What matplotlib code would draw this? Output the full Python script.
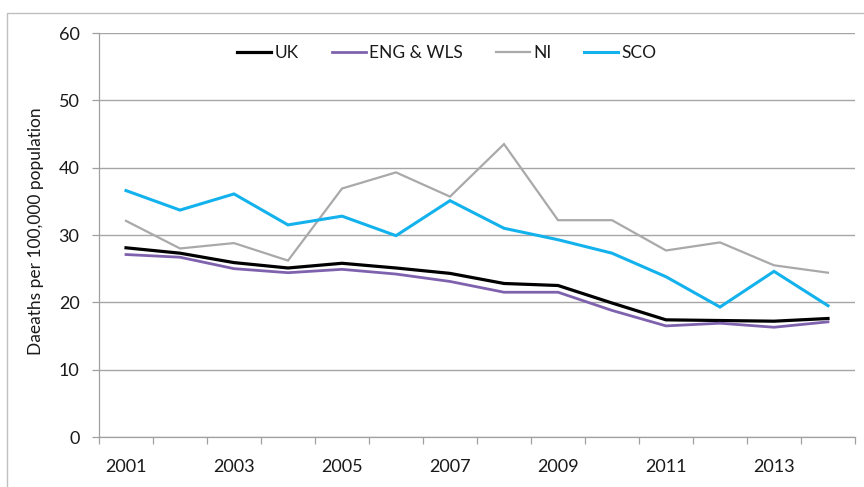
import matplotlib
matplotlib.use("Agg")
import matplotlib.pyplot as plt
from matplotlib.patches import Rectangle
import numpy as np

years = [2001, 2002, 2003, 2004, 2005, 2006, 2007, 2008, 2009, 2010, 2011, 2012, 2013, 2014]
uk = [28.1, 27.3, 25.9, 25.1, 25.8, 25.1, 24.3, 22.8, 22.5, 19.9, 17.4, 17.3, 17.2, 17.6]
eng_wls = [27.1, 26.7, 25.0, 24.4, 24.9, 24.2, 23.1, 21.5, 21.5, 18.8, 16.5, 16.9, 16.3, 17.1]
ni = [32.1, 28.0, 28.8, 26.2, 36.9, 39.3, 35.7, 43.5, 32.2, 32.2, 27.7, 28.9, 25.5, 24.4]
sco = [36.6, 33.7, 36.1, 31.5, 32.8, 29.9, 35.1, 31.0, 29.3, 27.3, 23.8, 19.3, 24.6, 19.5]
series_names = ["UK", "ENG & WLS", "NI", "SCO"]
y_ticks = [0, 10, 20, 30, 40, 50, 60]
y_label = "Daeaths per 100,000 population"

plt.rcParams['font.family'] = ['Lato', 'DejaVu Sans']

W, H = 864, 487
fig = plt.figure(figsize=(W / 100, H / 100), dpi=100)
ax = fig.add_axes([99 / W, 1 - 437 / H, (855 - 99) / W, (437 - 33) / H])

x = np.arange(len(years))
colors = ["#000000", "#7F62AE", "#A9A9A9", "#13B2EC"]
widths = [2.3, 2.0, 1.6, 2.2]
for vals, name, c, lw in zip([uk, eng_wls, ni, sco], series_names, colors, widths):
    ax.plot(x, vals, color=c, lw=lw, label=name, solid_joinstyle='miter')

ax.set_xlim(-0.5, len(years) - 0.5)
ax.set_ylim(0, 60)
ax.set_yticks(y_ticks)
ax.set_yticklabels([str(v) for v in y_ticks])
ax.set_xticks(x[::2])
ax.set_xticklabels([str(y) for y in years[::2]])
ax.set_xticks(np.arange(-0.5, len(years), 1.0), minor=True)
ax.tick_params(axis='x', which='major', length=0, pad=16, labelsize=13, colors='#1a1a1a')
ax.tick_params(axis='x', which='minor', length=5, width=0.9, color='#A0A0A0', direction='out')
ax.tick_params(axis='y', which='major', length=5, width=0.9, color='#A0A0A0', pad=9,
               labelsize=13, labelcolor='#1a1a1a')

ax.grid(axis='y', color='#A6A6A6', lw=1.0)
ax.set_axisbelow(True)
for s in ['top', 'right']:
    ax.spines[s].set_visible(False)
for s in ['left', 'bottom']:
    ax.spines[s].set_color('#A0A0A0')
    ax.spines[s].set_linewidth(0.9)

ax.set_ylabel(y_label, fontsize=12.5, color='#1a1a1a')
ax.yaxis.set_label_coords(-(99 - 44) / (855 - 99), 0.51)

leg = fig.legend(loc='center', bbox_to_anchor=(447 / W, 1 - 53 / H), ncol=4, frameon=False,
                 fontsize=12.5, handlelength=1.95, handletextpad=0.2, columnspacing=1.9)
for t in leg.get_texts():
    t.set_color('#1a1a1a')

fig.patches.append(Rectangle((7 / W, -0.1), 1.2, 1 - 13 / H + 0.1, transform=fig.transFigure,
                             fill=False, edgecolor='#BFBFBF', lw=1.0))

fig.savefig("out.png", dpi=100)
